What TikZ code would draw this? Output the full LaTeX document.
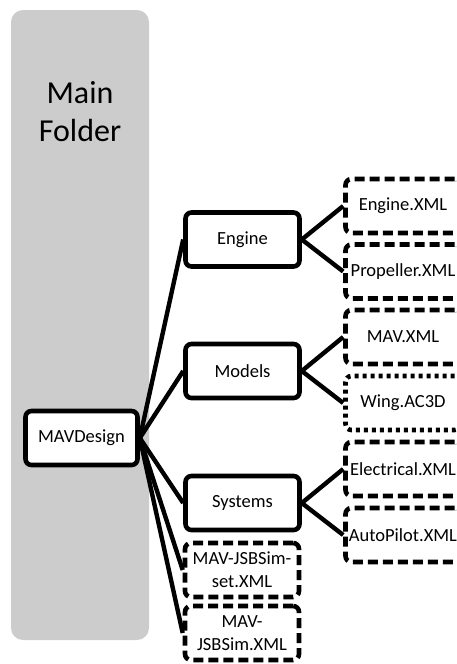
\documentclass[tikz,border=0pt]{standalone}
\usepackage{fontspec}
\setmainfont{Carlito}
\definecolor{panelgray}{RGB}{204,204,204}
\begin{document}
\begin{tikzpicture}[x=1pt,y=-1pt,
  box/.style={draw=black, line width=4.6pt, rounded corners=6pt, fill=white,
    minimum width=114pt, minimum height=54pt, inner sep=0pt, align=center,
    font=\fontsize{18.5}{23}\selectfont},
  dashbox/.style={box, dash pattern=on 10pt off 5pt},
  dotbox/.style={box, dash pattern=on 4pt off 4pt},
  conn/.style={draw=black, line width=4.4pt}]
\useasboundingbox (0,0) rectangle (456,664);
\clip (0,0) rectangle (456,664);

% folder panel
\fill[panelgray, rounded corners=12pt] (11,10) rectangle (149,640);
\node[align=center, font=\fontsize{32}{38}\selectfont] (title) at (80,112) {Main\\Folder};

% root
\node[box, minimum width=112pt] (mav) at (81.5,438) {MAVDesign};

% first level
\node[box] (eng) at (242.5,239.5) {Engine};
\node[box] (mod) at (242.5,371) {Models};
\node[box] (sys) at (242.5,503) {Systems};
\node[dashbox] (set) at (242,570) {MAV-JSBSim-\\set.XML};
\node[dashbox] (jsb) at (242,633) {MAV-\\JSBSim.XML};

% second level
\node[dashbox, minimum width=115pt] (engx) at (403,206) {Engine.XML};
\node[dashbox, minimum width=115pt] (prop) at (403,271.5) {Propeller.XML};
\node[dashbox, minimum width=115pt] (mavx) at (403,337) {MAV.XML};
\node[dotbox, minimum width=115pt] (wing) at (403,403) {Wing.AC3D};
\node[dashbox, minimum width=115pt] (elec) at (403,469) {Electrical.XML};
\node[dashbox, minimum width=115pt] (auto) at (403,535) {AutoPilot.XML};

% connectors
\foreach \t in {eng,mod,sys,set,jsb}
  \draw[conn] (mav.east) -- (\t.west);
\draw[conn] (eng.east) -- (engx.west);
\draw[conn] (eng.east) -- (prop.west);
\draw[conn] (mod.east) -- (mavx.west);
\draw[conn] (mod.east) -- (wing.west);
\draw[conn] (sys.east) -- (elec.west);
\draw[conn] (sys.east) -- (auto.west);
\end{tikzpicture}
\end{document}
